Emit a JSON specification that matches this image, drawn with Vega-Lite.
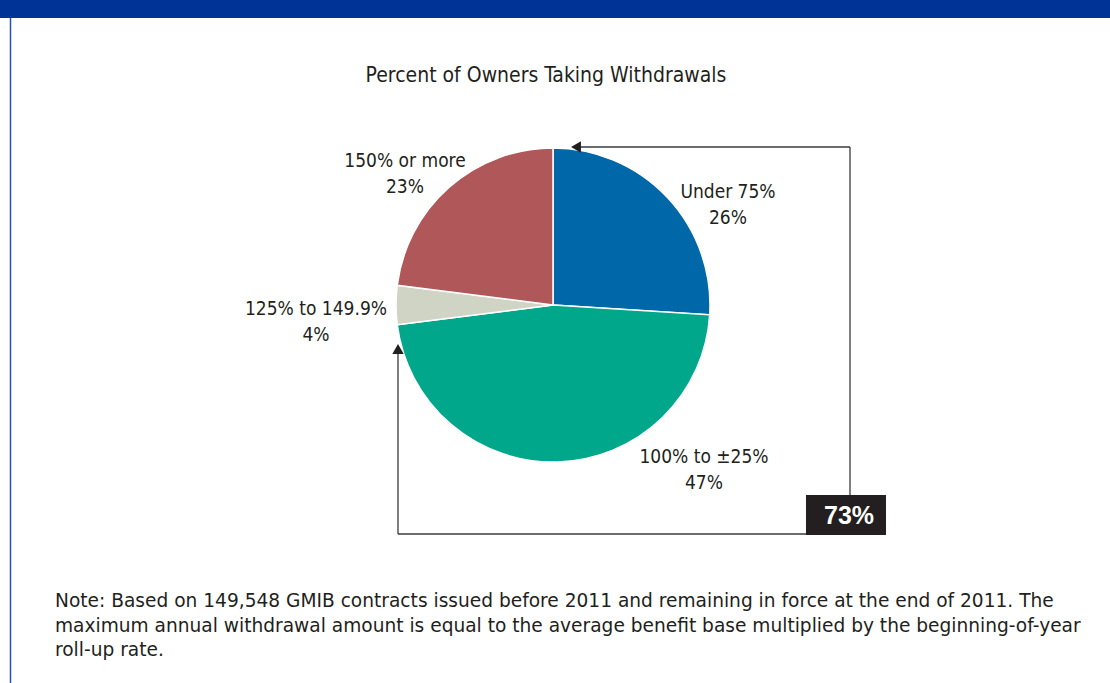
{
  "$schema": "https://vega.github.io/schema/vega-lite/v6.json",
  "autosize": "none",
  "width": 1110,
  "height": 683,
  "padding": 0,
  "background": "white",
  "config": {"view": {"stroke": null}},
  "datasets": {
    "slices": [
      {"category": "Under 75%", "pct": 26, "rank": 1, "label": "Under 75%\n26%"},
      {"category": "100% to ±25%", "pct": 47, "rank": 2, "label": "100% to ±25%\n47%"},
      {"category": "125% to 149.9%", "pct": 4, "rank": 3, "label": "125% to 149.9%\n4%"},
      {"category": "150% or more", "pct": 23, "rank": 4, "label": "150% or more\n23%"}
    ],
    "texts": [
      {"role": "title", "text": "Percent of Owners Taking Withdrawals"},
      {"role": "note", "text": "Note: Based on 149,548 GMIB contracts issued before 2011 and remaining in force at the end of 2011. The\nmaximum annual withdrawal amount is equal to the average benefit base multiplied by the beginning-of-year\nroll-up rate."},
      {"role": "total", "text": "73%"}
    ]
  },
  "layer": [
    {
      "data": {"name": "texts"},
      "transform": [{"filter": "datum.role === 'title'"}],
      "mark": {"type": "rect", "color": "#003396"},
      "encoding": {
        "x": {"datum": 0, "type": "quantitative", "scale": {"domain": [0, 1110], "nice": false, "zero": false}, "axis": null},
        "x2": {"datum": 1110},
        "y": {"datum": 0, "type": "quantitative", "scale": {"domain": [0, 683], "nice": false, "zero": false, "reverse": true}, "axis": null},
        "y2": {"datum": 18}
      }
    },
    {
      "data": {"name": "texts"},
      "transform": [{"filter": "datum.role === 'title'"}],
      "mark": {"type": "rule", "color": "#2350b8", "strokeWidth": 1.5},
      "encoding": {
        "x": {"datum": 10.5, "type": "quantitative"},
        "y": {"datum": 18, "type": "quantitative"},
        "y2": {"datum": 683}
      }
    },
    {
      "data": {"name": "slices"},
      "mark": {"type": "arc", "outerRadius": 157, "stroke": "white", "strokeWidth": 1.5},
      "encoding": {
        "x": {"datum": 553, "type": "quantitative"},
        "y": {"datum": 305, "type": "quantitative"},
        "theta": {"field": "pct", "type": "quantitative", "stack": true},
        "order": {"field": "rank", "type": "quantitative"},
        "color": {
          "field": "category",
          "type": "nominal",
          "scale": {
            "domain": ["Under 75%", "100% to ±25%", "125% to 149.9%", "150% or more"],
            "range": ["#0067a8", "#00a78a", "#cfd4c5", "#b0575a"]
          },
          "legend": null
        }
      }
    },
    {
      "data": {"name": "slices"},
      "transform": [{"filter": "datum.category === 'Under 75%'"}],
      "mark": {"type": "text", "font": "DejaVu Sans Condensed, sans-serif", "fontSize": 19, "lineBreak": "\n", "lineHeight": 26, "align": "center", "baseline": "middle", "color": "#231f20"},
      "encoding": {
        "x": {"datum": 728, "type": "quantitative"},
        "y": {"datum": 192, "type": "quantitative"},
        "text": {"field": "label"}
      }
    },
    {
      "data": {"name": "slices"},
      "transform": [{"filter": "datum.category === '100% to ±25%'"}],
      "mark": {"type": "text", "font": "DejaVu Sans Condensed, sans-serif", "fontSize": 19, "lineBreak": "\n", "lineHeight": 26, "align": "center", "baseline": "middle", "color": "#231f20"},
      "encoding": {
        "x": {"datum": 704, "type": "quantitative"},
        "y": {"datum": 457, "type": "quantitative"},
        "text": {"field": "label"}
      }
    },
    {
      "data": {"name": "slices"},
      "transform": [{"filter": "datum.category === '125% to 149.9%'"}],
      "mark": {"type": "text", "font": "DejaVu Sans Condensed, sans-serif", "fontSize": 19, "lineBreak": "\n", "lineHeight": 26, "align": "center", "baseline": "middle", "color": "#231f20"},
      "encoding": {
        "x": {"datum": 316, "type": "quantitative"},
        "y": {"datum": 309, "type": "quantitative"},
        "text": {"field": "label"}
      }
    },
    {
      "data": {"name": "slices"},
      "transform": [{"filter": "datum.category === '150% or more'"}],
      "mark": {"type": "text", "font": "DejaVu Sans Condensed, sans-serif", "fontSize": 19, "lineBreak": "\n", "lineHeight": 26, "align": "center", "baseline": "middle", "color": "#231f20"},
      "encoding": {
        "x": {"datum": 405, "type": "quantitative"},
        "y": {"datum": 161, "type": "quantitative"},
        "text": {"field": "label"}
      }
    },
    {
      "data": {"name": "texts"},
      "transform": [{"filter": "datum.role === 'title'"}],
      "mark": {"type": "text", "font": "DejaVu Sans Condensed, sans-serif", "fontSize": 21, "align": "center", "baseline": "alphabetic", "color": "#231f20"},
      "encoding": {
        "x": {"datum": 546, "type": "quantitative"},
        "y": {"datum": 82, "type": "quantitative"},
        "text": {"field": "text"}
      }
    },
    {
      "data": {"name": "texts"},
      "transform": [{"filter": "datum.role === 'note'"}],
      "mark": {"type": "text", "font": "DejaVu Sans, sans-serif", "fontSize": 18.6, "lineBreak": "\n", "lineHeight": 24.5, "align": "left", "baseline": "alphabetic", "color": "#231f20"},
      "encoding": {
        "x": {"datum": 55, "type": "quantitative"},
        "y": {"datum": 607, "type": "quantitative"},
        "text": {"field": "text"}
      }
    },
    {
      "data": {"name": "texts"},
      "transform": [{"filter": "datum.role === 'total'"}],
      "mark": {"type": "rule", "color": "#3a3a3a", "strokeWidth": 1.3},
      "encoding": {
        "x": {"datum": 850, "type": "quantitative"},
        "y": {"datum": 147, "type": "quantitative"},
        "y2": {"datum": 496}
      }
    },
    {
      "data": {"name": "texts"},
      "transform": [{"filter": "datum.role === 'total'"}],
      "mark": {"type": "rule", "color": "#3a3a3a", "strokeWidth": 1.3},
      "encoding": {
        "x": {"datum": 578, "type": "quantitative"},
        "x2": {"datum": 850},
        "y": {"datum": 147, "type": "quantitative"}
      }
    },
    {
      "data": {"name": "texts"},
      "transform": [{"filter": "datum.role === 'total'"}],
      "mark": {"type": "rule", "color": "#3a3a3a", "strokeWidth": 1.3},
      "encoding": {
        "x": {"datum": 398, "type": "quantitative"},
        "x2": {"datum": 807},
        "y": {"datum": 534, "type": "quantitative"}
      }
    },
    {
      "data": {"name": "texts"},
      "transform": [{"filter": "datum.role === 'total'"}],
      "mark": {"type": "rule", "color": "#3a3a3a", "strokeWidth": 1.3},
      "encoding": {
        "x": {"datum": 398, "type": "quantitative"},
        "y": {"datum": 350, "type": "quantitative"},
        "y2": {"datum": 534}
      }
    },
    {
      "data": {"name": "texts"},
      "transform": [{"filter": "datum.role === 'total'"}],
      "mark": {"type": "point", "shape": "triangle-left", "filled": true, "color": "#231f20", "size": 130, "opacity": 1},
      "encoding": {
        "x": {"datum": 576, "type": "quantitative"},
        "y": {"datum": 147, "type": "quantitative"}
      }
    },
    {
      "data": {"name": "texts"},
      "transform": [{"filter": "datum.role === 'total'"}],
      "mark": {"type": "point", "shape": "triangle-up", "filled": true, "color": "#231f20", "size": 130, "opacity": 1},
      "encoding": {
        "x": {"datum": 398, "type": "quantitative"},
        "y": {"datum": 349, "type": "quantitative"}
      }
    },
    {
      "data": {"name": "texts"},
      "transform": [{"filter": "datum.role === 'total'"}],
      "mark": {"type": "rect", "color": "#231f20"},
      "encoding": {
        "x": {"datum": 806, "type": "quantitative"},
        "x2": {"datum": 886},
        "y": {"datum": 495, "type": "quantitative"},
        "y2": {"datum": 535}
      }
    },
    {
      "data": {"name": "texts"},
      "transform": [{"filter": "datum.role === 'total'"}],
      "mark": {"type": "text", "font": "Liberation Sans, sans-serif", "fontSize": 25, "fontWeight": "bold", "align": "center", "baseline": "middle", "color": "white"},
      "encoding": {
        "x": {"datum": 849, "type": "quantitative"},
        "y": {"datum": 516, "type": "quantitative"},
        "text": {"field": "text"}
      }
    }
  ]
}
